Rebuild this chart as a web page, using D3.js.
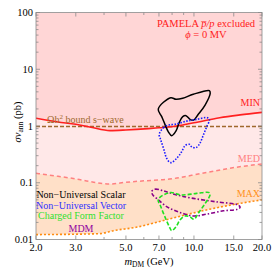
<!DOCTYPE html>
<html>
<head>
<meta charset="utf-8">
<script src="https://cdn.jsdelivr.net/npm/d3@7"></script>
<style>
  body { margin: 0; background: #fff; }
  svg text { font-family: "Liberation Serif", "DejaVu Serif", serif; }
</style>
</head>
<body>
<svg width="272" height="268"></svg>
<script>
// bands (mass in GeV, sigma v in pb)
var minMass = [2, 2.5, 3, 3.5, 4.25, 5, 6.3, 7, 8, 10, 13, 16, 20],
    minSv   = [1.37, 1.18, 1.07, 0.95, 0.83, 0.85, 0.90, 0.93, 0.97, 1.14, 1.40, 1.57, 1.74];
var medMass = [2, 2.5, 3, 3.5, 4.25, 5, 6, 7.8, 10.9, 15.3, 20],
    medSv   = [0.147, 0.13, 0.117, 0.104, 0.095, 0.102, 0.108, 0.116, 0.147, 0.187, 0.214];
var maxMass = [2, 3, 3.84, 4.4, 5.54, 7.78, 10.9, 15.3, 20],
    maxSv   = [0.0122, 0.0124, 0.0127, 0.0143, 0.0164, 0.023, 0.032, 0.042, 0.050];
var relicSv = 0.98;

// best fit contours [mass, sigma v]
var scalar = [[6.95,1.99],[7.89,3.15],[8.33,2.95],[8.92,3.08],[9.93,3.62],[11.7,4.19],[11.8,3.77],
  [11.2,2.34],[10.45,1.61],[9.93,1.26],[9.60,1.31],[9.22,1.52],[8.92,1.46],[8.61,1.16],[8.33,0.82],
  [7.97,0.675],[7.70,0.79],[7.44,1.07],[7.20,1.46]];
var vector = [[7.02,0.71],[7.32,0.93],[7.70,1.04],[8.24,1.07],[9.29,1.22],[10.28,1.31],[11.46,1.40],
  [11.7,1.28],[11.38,0.97],[11.0,0.69],[10.63,0.50],[10.21,0.415],[9.77,0.43],[9.54,0.476],[9.13,0.45],
  [8.82,0.352],[8.39,0.27],[7.89,0.226],[7.57,0.27],[7.37,0.378],[7.13,0.567]];
var mdm = [[6.50,0.070],[6.72,0.077],[7.32,0.072],[8.39,0.061],[9.93,0.053],[12.6,0.046],[15.7,0.0405],
  [16.0,0.037],[15.56,0.034],[13.5,0.032],[11.38,0.028],[9.93,0.026],[8.67,0.030],[7.57,0.038],
  [6.84,0.053],[6.57,0.061]];
var charged = [[6.95,0.051],[7.83,0.067],[8.82,0.061],[10.28,0.065],[11.69,0.067],[11.78,0.061],
  [11.2,0.043],[10.45,0.029],[10.0,0.0227],[9.60,0.025],[9.13,0.026],[8.67,0.022],[8.33,0.0168],
  [7.97,0.0143],[7.78,0.0168],[7.44,0.025],[7.13,0.038]];

var xTicks = [2, 3, 4, 5, 6, 7, 8, 9, 10, 15, 20],
    xLabels = [2, 3, 5, 7, 10, 15, 20];
var yMajor = [0.01, 0.1, 1, 10, 100],
    yLabels = ["0.01", "0.1", "1", "10", "100"];

var legendNames = ["Non\u2212Universal Scalar", "Non\u2212Universal Vector", "Charged Form Factor", "MDM"],
    legendColors = ["#000000", "#3030ff", "#30e030", "#9000a0"];

var svg = d3.select("svg"),
    pLeft = 36, pRight = 262, pTop = 12.5, pBottom = 239.5;

var x = d3.scaleLog().domain([2, 20]).range([pLeft, pRight]),
    y = d3.scaleLog().domain([0.01, 100]).range([pBottom, pTop]);

svg.append("defs").append("clipPath").attr("id", "plotclip")
  .append("rect").attr("x", pLeft).attr("y", pTop).attr("width", pRight - pLeft).attr("height", pBottom - pTop);

var plot = svg.append("g").attr("clip-path", "url(#plotclip)");

function zip(xs, ys) { return xs.map(function(v, i) { return [v, ys[i]]; }); }
var minPts = zip(minMass, minSv), medPts = zip(medMass, medSv), maxPts = zip(maxMass, maxSv);

var line = d3.line().x(function(d) { return x(d[0]); }).y(function(d) { return y(d[1]); })
  .curve(d3.curveMonotoneX);

function band(lower, upper) {
  // lower curve forward, then upper curve backward
  var upperPath = upper
    ? "L" + line(upper.slice().reverse()).slice(1)
    : "L" + x(20) + "," + y(100) + "L" + x(2) + "," + y(100);
  return line(lower) + upperPath + "Z";
}

plot.append("path").attr("d", band(minPts, null)).attr("fill", "#ffd6d6");
plot.append("path").attr("d", band(medPts, minPts)).attr("fill", "#ffe8e8");
plot.append("path").attr("d", band(maxPts, medPts)).attr("fill", "#ffe0c8");

// relic line
plot.append("line")
  .attr("x1", x(2)).attr("x2", x(20)).attr("y1", y(relicSv)).attr("y2", y(relicSv))
  .attr("stroke", "#a0682c").attr("stroke-width", 1.5).attr("stroke-dasharray", "4,2");

plot.append("path").attr("d", line(minPts)).attr("fill", "none")
  .attr("stroke", "#ff2020").attr("stroke-width", 1.6);
plot.append("path").attr("d", line(medPts)).attr("fill", "none")
  .attr("stroke", "#ff8080").attr("stroke-width", 1.5).attr("stroke-dasharray", "4,3");
plot.append("path").attr("d", line(maxPts)).attr("fill", "none")
  .attr("stroke", "#ff8c10").attr("stroke-width", 1.6).attr("stroke-dasharray", "2,2");

var loop = d3.line().x(function(d) { return x(d[0]); }).y(function(d) { return y(d[1]); })
  .curve(d3.curveCatmullRomClosed.alpha(0.5));

plot.append("path").attr("d", loop(scalar)).attr("fill", "none")
  .attr("stroke", "#000").attr("stroke-width", 1.5);
plot.append("path").attr("d", loop(vector)).attr("fill", "none")
  .attr("stroke", "#1a1aff").attr("stroke-width", 1.6).attr("stroke-dasharray", "1.5,1.5");
plot.append("path").attr("d", loop(mdm)).attr("fill", "none")
  .attr("stroke", "#880088").attr("stroke-width", 1.6).attr("stroke-dasharray", "4,2,1.5,2");
plot.append("path").attr("d", loop(charged)).attr("fill", "none")
  .attr("stroke", "#20e020").attr("stroke-width", 1.6).attr("stroke-dasharray", "4,2");

// frame and ticks
var axisColor = "#8a8a8a";
svg.append("rect").attr("x", pLeft).attr("y", pTop).attr("width", pRight - pLeft).attr("height", pBottom - pTop)
  .attr("fill", "none").attr("stroke", axisColor).attr("stroke-width", 0.8);

var ticks = svg.append("g").attr("stroke", axisColor).attr("stroke-width", 0.8);
xTicks.forEach(function(v) {
  var len = xLabels.indexOf(v) >= 0 ? 4 : 2.5;
  ticks.append("line").attr("x1", x(v)).attr("x2", x(v)).attr("y1", pBottom).attr("y2", pBottom - len);
  ticks.append("line").attr("x1", x(v)).attr("x2", x(v)).attr("y1", pTop).attr("y2", pTop + len);
});
yMajor.forEach(function(v) {
  [1, 2, 3, 4, 5, 6, 7, 8, 9].forEach(function(k) {
    var val = v * k;
    if (val > 100) return;
    var len = k === 1 ? 4 : 2.5;
    ticks.append("line").attr("x1", pLeft).attr("x2", pLeft + len).attr("y1", y(val)).attr("y2", y(val));
    ticks.append("line").attr("x1", pRight).attr("x2", pRight - len).attr("y1", y(val)).attr("y2", y(val));
  });
});

svg.selectAll(".xl").data(xLabels).enter().append("text")
  .attr("x", function(d) { return x(d); }).attr("y", 250.5)
  .attr("text-anchor", "middle").attr("font-size", 10.5).attr("fill", "#000")
  .text(function(d) { return d.toFixed(1); });

svg.selectAll(".yl").data(yMajor).enter().append("text")
  .attr("x", 33).attr("y", function(d) { return y(d) + 3.5; })
  .attr("text-anchor", "end").attr("font-size", 10.5).attr("fill", "#000")
  .text(function(d, i) { return yLabels[i]; });

// axis titles
var xt = svg.append("text").attr("x", 149).attr("y", 264.5).attr("text-anchor", "middle")
  .attr("font-size", 10.5);
xt.append("tspan").attr("font-style", "italic").text("m");
xt.append("tspan").attr("font-size", 7.5).attr("dy", 2).text("DM");
xt.append("tspan").attr("dy", -2).text(" (GeV)");

var yt = svg.append("text").attr("transform", "translate(21,122) rotate(-90)")
  .attr("text-anchor", "middle").attr("font-size", 10.5);
yt.append("tspan").attr("font-style", "italic").text("\u03c3v");
yt.append("tspan").attr("font-size", 7.5).attr("dy", 2).text("ann");
yt.append("tspan").attr("dy", -2).text(" (pb)");

// annotations
var pam = svg.append("text").attr("x", 206).attr("y", 27).attr("text-anchor", "middle")
  .attr("font-size", 10.5).attr("fill", "#ff2020");
pam.append("tspan").text("PAMELA ");
pam.append("tspan").attr("font-style", "italic").text("p\u0305/p");
pam.append("tspan").text(" excluded");
var phi = svg.append("text").attr("x", 206).attr("y", 37.5).attr("text-anchor", "middle")
  .attr("font-size", 10.5).attr("fill", "#ff2020");
phi.append("tspan").attr("font-style", "italic").text("\u03d5");
phi.append("tspan").text(" = 0 MV");

svg.append("text").attr("x", 260).attr("y", 106).attr("text-anchor", "end")
  .attr("font-size", 10).attr("fill", "#ff2020").text("MIN");
svg.append("text").attr("x", 260).attr("y", 162).attr("text-anchor", "end")
  .attr("font-size", 10).attr("fill", "#ff8080").text("MED");
svg.append("text").attr("x", 260).attr("y", 197).attr("text-anchor", "end")
  .attr("font-size", 10).attr("fill", "#ff9020").text("MAX");

var om = svg.append("text").attr("x", 47).attr("y", 123).attr("font-size", 10).attr("fill", "#a0682c");
om.append("tspan").text("\u03a9h");
om.append("tspan").attr("font-size", 7).attr("dy", -4).text("2");
om.append("tspan").attr("dy", 4).text(" bound s\u2212wave");

var legendY = [198, 208.5, 219, 231.5];
svg.selectAll(".lg").data(legendNames).enter().append("text")
  .attr("x", 81).attr("y", function(d, i) { return legendY[i]; })
  .attr("text-anchor", "middle").attr("font-size", 10)
  .attr("fill", function(d, i) { return legendColors[i]; })
  .text(function(d) { return d; });
</script>
</body>
</html>
